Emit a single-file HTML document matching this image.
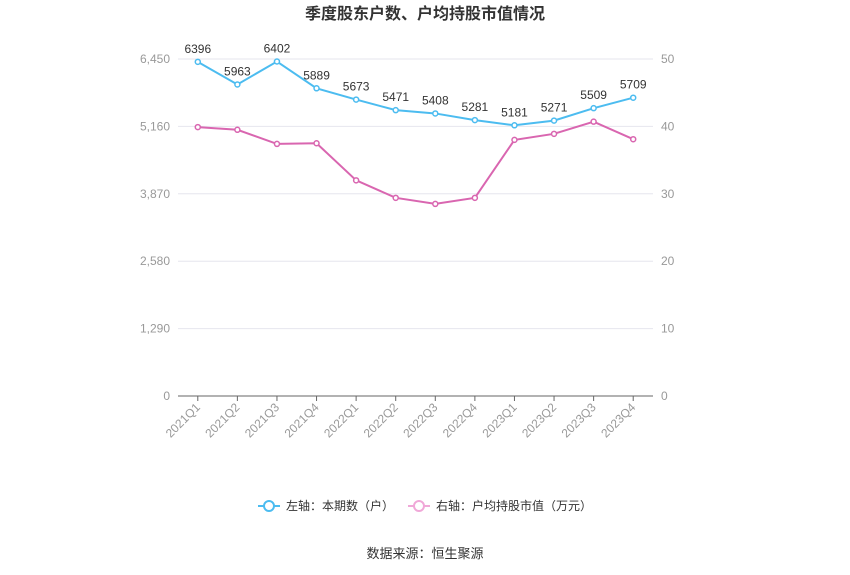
<!DOCTYPE html>
<html><head><meta charset="utf-8"><style>
body{margin:0;background:#fff;}
svg{display:block;font-family:"Liberation Sans","Noto Sans CJK SC",sans-serif;}
</style></head><body>
<svg id="c" width="850" height="575"></svg>
<script>
const categories=["2021Q1","2021Q2","2021Q3","2021Q4","2022Q1","2022Q2","2022Q3","2022Q4","2023Q1","2023Q2","2023Q3","2023Q4"];
const holders=[6396,5963,6402,5889,5673,5471,5408,5281,5181,5271,5509,5709];
const avgValue=[39.9,39.5,37.4,37.5,32.0,29.4,28.5,29.4,38.0,38.9,40.7,38.1];
const leftTicks=[0,1290,2580,3870,5160,6450];
const leftTickLabels=["0","1,290","2,580","3,870","5,160","6,450"];
const rightTicks=[0,10,20,30,40,50];
const NS="http://www.w3.org/2000/svg";
const svg=document.getElementById('c');
function el(t,a,txt){const e=document.createElementNS(NS,t);for(const k in a)e.setAttribute(k,a[k]);if(txt!==undefined)e.textContent=txt;svg.appendChild(e);return e;}
const x0=178,x1=653,yTop=59,yBot=396;
const bw=(x1-x0)/categories.length;
const xs=i=>x0+bw*(i+0.5);
const yL=v=>yBot-(v/6450)*(yBot-yTop);
const yR=v=>yBot-(v/50)*(yBot-yTop);
let t=el('text',{x:425,y:19,'text-anchor':'middle','font-size':16,'font-weight':'bold',fill:'#333'},'季度股东户数、户均持股市值情况');

leftTicks.forEach((v,i)=>{
 const y=yL(v);
 if(i>0){const g=el('line',{x1:x0,x2:x1,y1:y,y2:y,stroke:'#e6e6ee','stroke-width':1});}
 const a=el('text',{x:170,y:y+4,'text-anchor':'end','font-size':12,fill:'#999'},leftTickLabels[i]);
 
});
rightTicks.forEach(v=>{
 const b=el('text',{x:661,y:yR(v)+4,'text-anchor':'start','font-size':12,fill:'#999'},String(v));
 
});
const ax=el('line',{x1:x0,x2:x1,y1:yBot,y2:yBot,stroke:'#666','stroke-width':1});

categories.forEach((c,i)=>{
 const x=xs(i);
 const tk=el('line',{x1:x,x2:x,y1:yBot,y2:yBot+5,stroke:'#666'});
 
 const l=el('text',{x:x+3,y:yBot+12,'text-anchor':'end','font-size':12,fill:'#999',transform:`rotate(-45 ${x+3} ${yBot+12})`},c);
 
});
function series(vals,yf,color,name,labels){
 const p=el('polyline',{points:vals.map((v,i)=>xs(i)+','+yf(v)).join(' '),fill:'none',stroke:color,'stroke-width':2});
 
 vals.forEach((v,i)=>{
  const c=el('circle',{cx:xs(i),cy:yf(v),r:2.5,fill:'#fff',stroke:color,'stroke-width':1.5});
  
  if(labels){const l=el('text',{x:xs(i),y:yf(v)-9,'text-anchor':'middle','font-size':12,fill:'#333'},String(v));
   }
 });
}
series(avgValue,yR,'#d966b0','avg-value',false);
series(holders,yL,'#4cbcf0','holders',true);
// legend
function leg(x,color,text,name){
 const l=el('line',{x1:x,x2:x+22,y1:506,y2:506,stroke:color,'stroke-width':2});
 const c=el('circle',{cx:x+11,cy:506,r:5,fill:'#fff',stroke:color,'stroke-width':2});
 const t=el('text',{x:x+28,y:510,'font-size':12,fill:'#333'},text);
}
leg(258,'#4cbcf0','左轴：本期数（户）','holders');
leg(408,'#f0a8d8','右轴：户均持股市值（万元）','avg-value');
const s=el('text',{x:425,y:558,'text-anchor':'middle','font-size':13,fill:'#333'},'数据来源：恒生聚源');

</script>
</body></html>
